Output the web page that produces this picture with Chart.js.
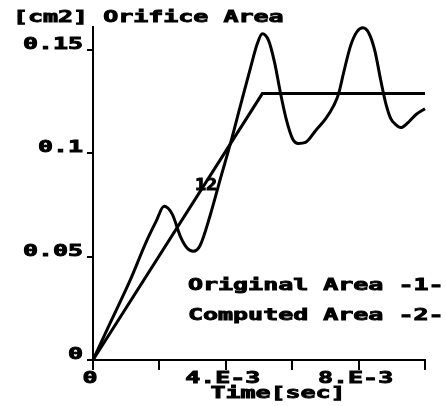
<!DOCTYPE html>
<html>
<head>
<meta charset="utf-8">
<script src="https://cdn.jsdelivr.net/npm/chart.js@4"></script>
<style>
  body { margin: 0; background: #fff; }
  #wrap { width: 446px; height: 406px; }
</style>
</head>
<body>
<div id="wrap"><canvas id="myChart" width="446" height="406"></canvas></div>
<script>
// time in units of 1e-3 sec, area in cm2
const timeOrig = [0, 5.1, 10.0];
const areaOrig = [0, 0.1288, 0.1288];

const timeComp = [0, 0.55, 1.12, 1.6, 1.9, 2.14, 2.39, 2.63, 2.84, 3.02, 3.23, 3.53, 3.84, 4.14, 4.44,
  4.74, 4.95, 5.1, 5.29, 5.47, 5.65, 5.83, 6.01, 6.19, 6.4, 6.71, 7.01, 7.25, 7.4, 7.55, 7.76, 7.95,
  8.13, 8.31, 8.49, 8.67, 8.82, 8.97, 9.12, 9.27, 9.49, 9.73, 10.0];
const areaComp = [0, 0.019, 0.0386, 0.057, 0.067, 0.0743, 0.0704, 0.0598, 0.054, 0.0526, 0.0555, 0.07,
  0.0878, 0.1047, 0.123, 0.141, 0.153, 0.1577, 0.1544, 0.1438, 0.1288, 0.1158, 0.107, 0.1047, 0.1052,
  0.111, 0.1167, 0.123, 0.1288, 0.139, 0.152, 0.1587, 0.1606, 0.158, 0.1495, 0.135, 0.124, 0.1167,
  0.1138, 0.1124, 0.1148, 0.1187, 0.1215];

const xTickValues = [0, 2, 4, 6, 8, 10];
const xTickLabels = ["0", "", "4.E-3", "", "8.E-3", ""];
const yTickValues = [0, 0.05, 0.1, 0.15];
const yTickLabels = ["0", "0.05", "0.1", "0.15"];

const titleText = "[cm2] Orifice Area";
const xTitle = "Time[sec]";
const legendLines = ["Original Area -1-", "Computed Area -2-"];
const curveMark = { x: 3.07, y: 0.082, text: "12" };

const ctx = document.getElementById("myChart").getContext("2d");

function toPoints(xs, ys) {
  return xs.map((x, i) => ({ x: x, y: ys[i] }));
}

// wide heavy text, like the old plotter font
function wideText(c, str, x, y, align, stretch) {
  const s = stretch || 1.56;
  c.save();
  c.font = "bold 16px 'DejaVu Sans Mono'";
  c.fillStyle = "#000";
  c.strokeStyle = "#000";
  c.lineWidth = 0.9;
  c.textBaseline = "alphabetic";
  const w = c.measureText(str).width * s;
  let left = x;
  if (align === "right") left = x - w;
  if (align === "center") left = x - w / 2;
  c.translate(left, y);
  c.scale(s, 1);
  c.textAlign = "left";
  c.fillText(str, 0, 0);
  c.strokeText(str, 0, 0);
  c.restore();
}

const textPlugin = {
  id: "oldText",
  afterDraw(chart) {
    const c = chart.ctx;
    const xs = chart.scales.x;
    const ys = chart.scales.y;
    const area = chart.chartArea;

    c.save();
    c.strokeStyle = "#000";
    c.lineWidth = 2;
    yTickValues.forEach((v) => {
      const py = Math.round(ys.getPixelForValue(v));
      c.beginPath();
      c.moveTo(area.left - 6, py);
      c.lineTo(area.left, py);
      c.stroke();
    });
    xTickValues.forEach((v) => {
      const px = Math.round(xs.getPixelForValue(v));
      c.beginPath();
      c.moveTo(px, area.bottom);
      c.lineTo(px, area.bottom + 10);
      c.stroke();
    });
    c.restore();

    yTickValues.forEach((v, i) => {
      const py = ys.getPixelForValue(v);
      wideText(c, yTickLabels[i], 83, py - 1, "right");
    });
    xTickValues.forEach((v, i) => {
      if (!xTickLabels[i]) return;
      const px = xs.getPixelForValue(v);
      wideText(c, xTickLabels[i], px - 3, 383, "center");
    });
    wideText(c, xTitle, 278, 398, "center");
    wideText(c, titleText, 13, 22, "left");
    wideText(c, legendLines[0], 188, 290, "left");
    wideText(c, legendLines[1], 188, 320, "left");
    wideText(c, curveMark.text, xs.getPixelForValue(curveMark.x), ys.getPixelForValue(curveMark.y), "left", 1.15);
  },
};

new Chart(ctx, {
  type: "line",
  data: {
    datasets: [
      {
        label: "Original Area",
        data: toPoints(timeOrig, areaOrig),
        borderColor: "#000",
        borderWidth: 3,
        pointRadius: 0,
        tension: 0,
        clip: false,
      },
      {
        label: "Computed Area",
        data: toPoints(timeComp, areaComp),
        borderColor: "#000",
        borderWidth: 3,
        pointRadius: 0,
        cubicInterpolationMode: "monotone",
        clip: false,
      },
    ],
  },
  options: {
    responsive: false,
    animation: false,
    events: [],
    layout: { padding: { top: 27, right: 21, left: 0, bottom: 0 } },
    plugins: { legend: { display: false }, tooltip: { enabled: false } },
    scales: {
      x: {
        type: "linear",
        min: 0,
        max: 10,
        grid: { display: false, drawTicks: false },
        border: { display: true, color: "#000", width: 2 },
        ticks: { display: false },
        afterFit(scale) { scale.height = 46; },
      },
      y: {
        min: 0,
        max: 0.161,
        grid: { display: false, drawTicks: false },
        border: { display: true, color: "#000", width: 2 },
        ticks: { display: false },
        afterFit(scale) { scale.width = 93; },
      },
    },
  },
  plugins: [textPlugin],
});
</script>
</body>
</html>
